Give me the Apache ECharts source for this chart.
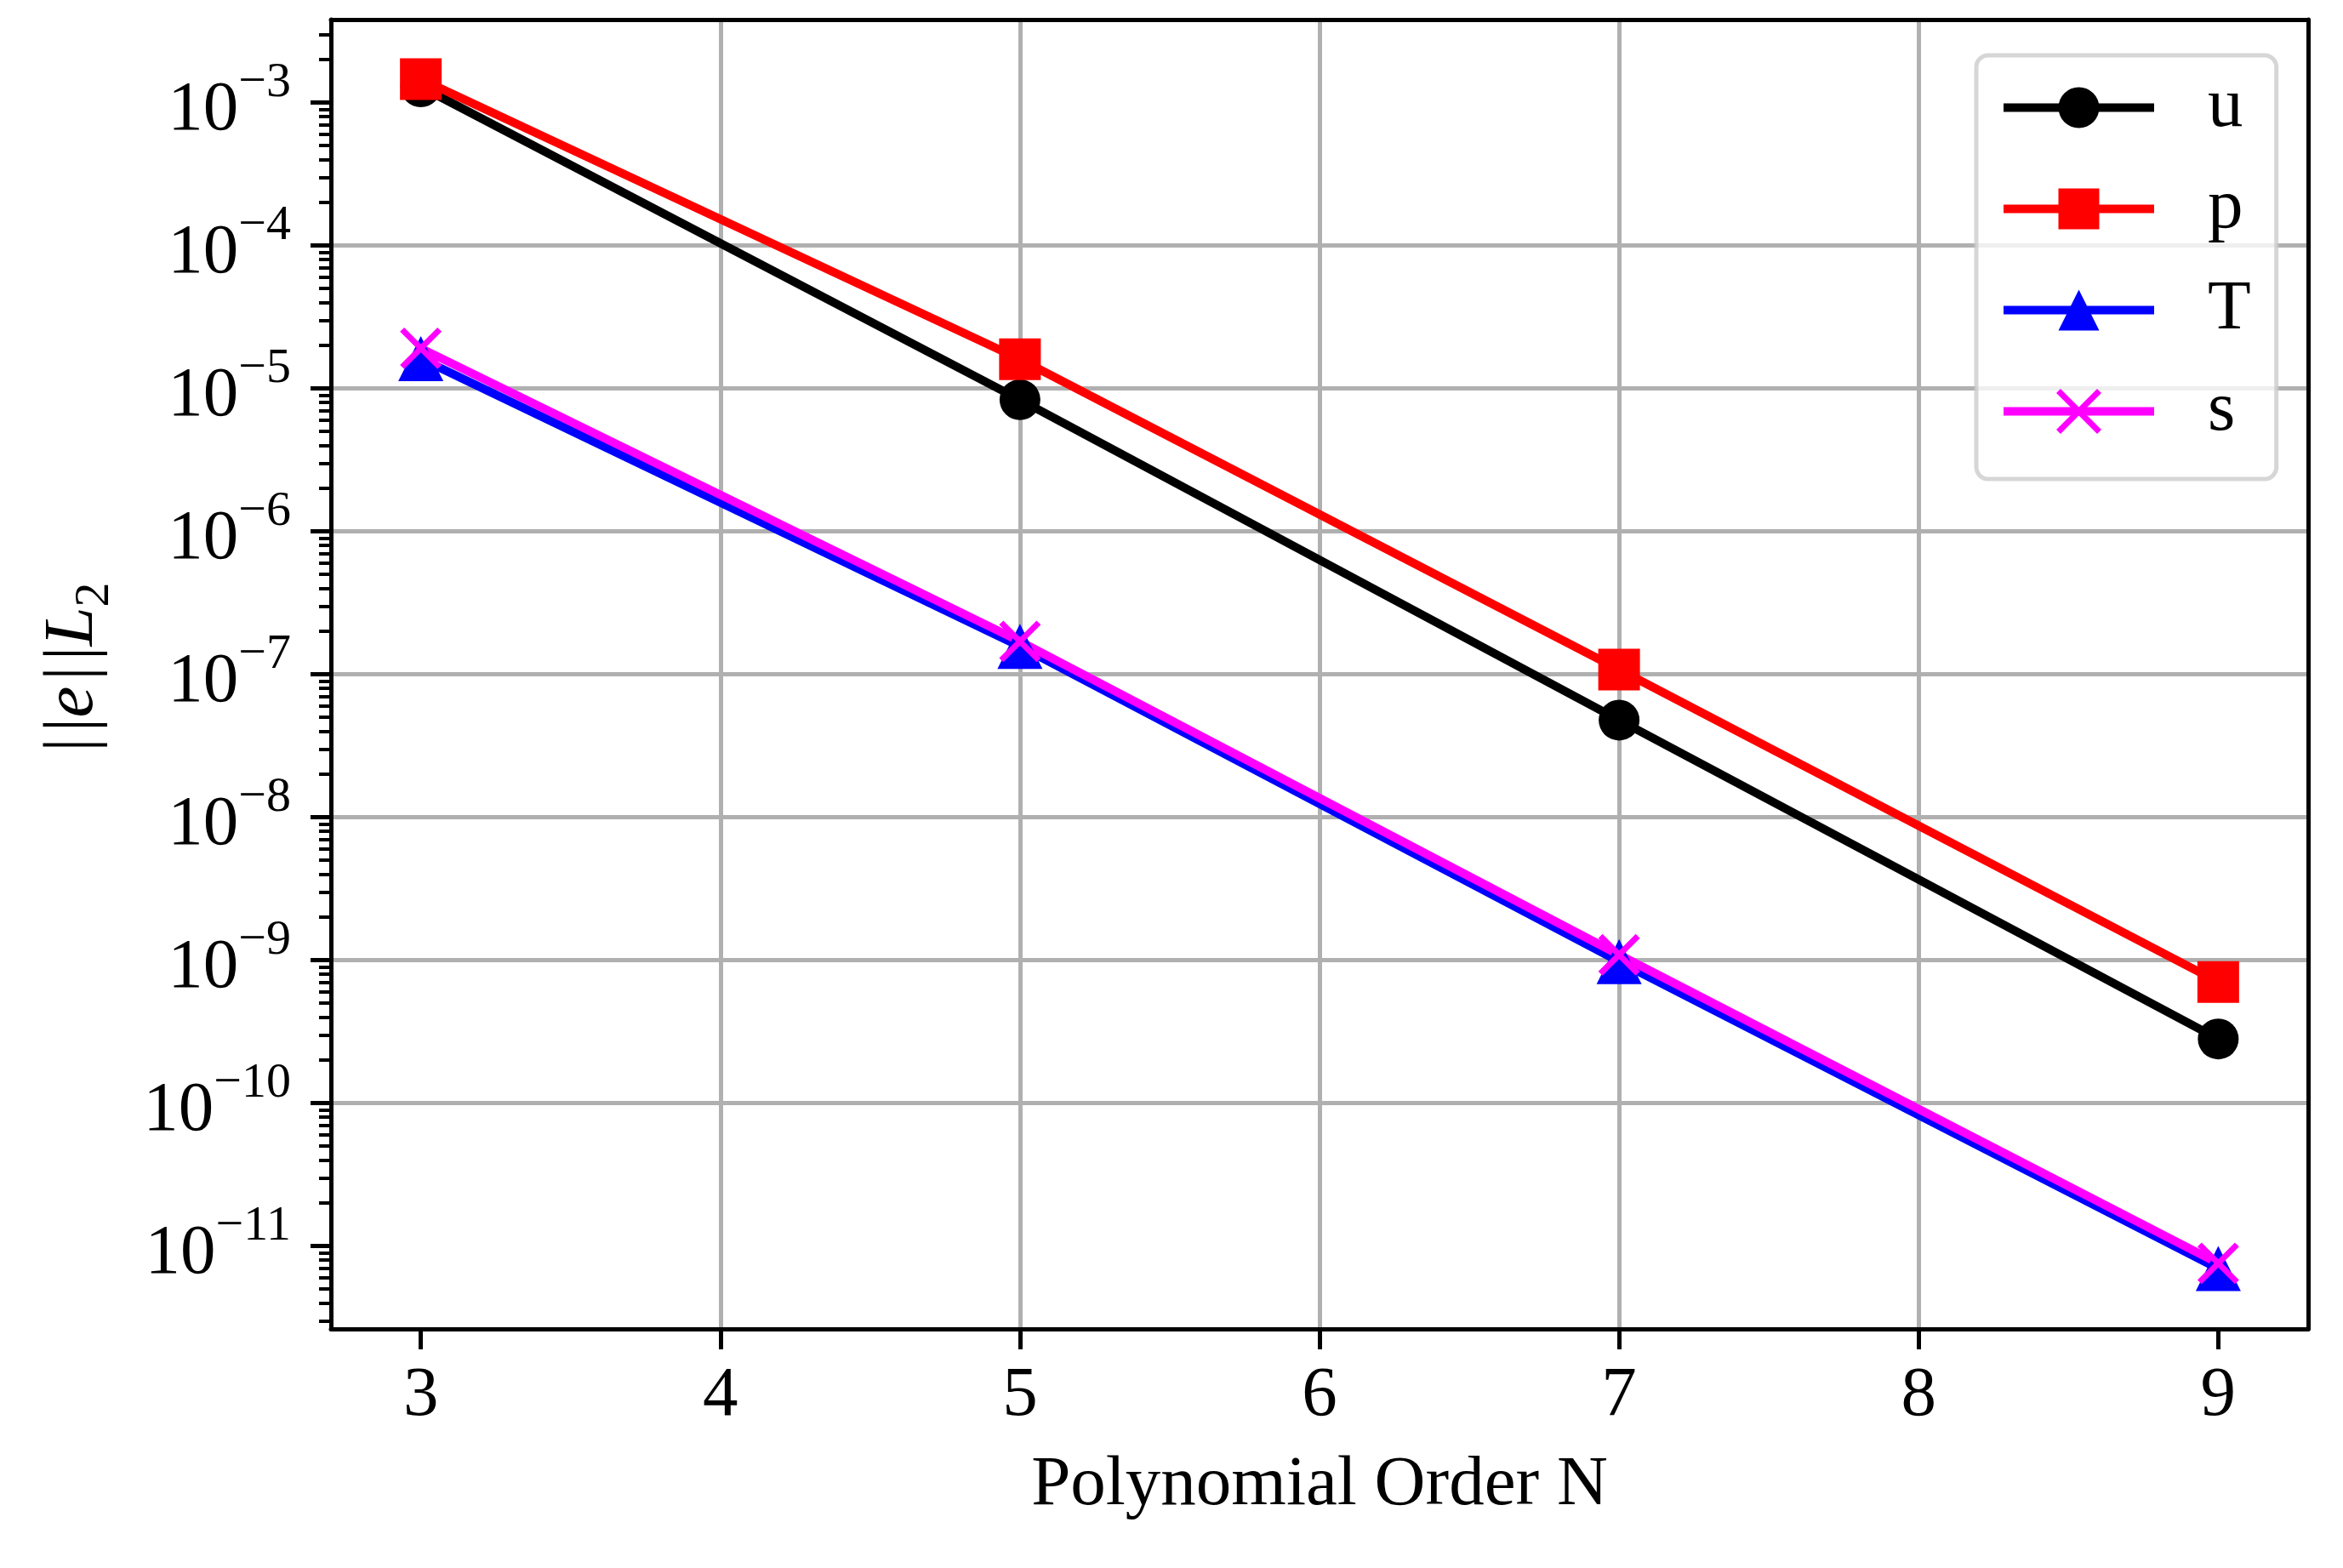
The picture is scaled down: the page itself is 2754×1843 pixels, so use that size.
<!DOCTYPE html>
<html>
<head>
<meta charset="utf-8">
<script src="https://cdn.jsdelivr.net/npm/echarts@6/dist/echarts.min.js"></script>
<style>
html,body{margin:0;padding:0;background:#ffffff;}
#chart{width:2754px;height:1843px;}
</style>
</head>
<body>
<div id="chart"></div>
<script>
// ---- data ----
const orders = [3, 5, 7, 9];
const uErr = [1.29e-3, 8.34e-6, 4.78e-8, 2.81e-10];
const pErr = [1.46e-3, 1.60e-5, 1.08e-7, 7.04e-10];
const TErr = [1.62e-5, 1.57e-7, 9.78e-10, 6.95e-12];
const sErr = [1.91e-5, 1.70e-7, 1.09e-9, 7.57e-12];
const seriesNames = ['u', 'p', 'T', 's'];
const xTicks = [3, 4, 5, 6, 7, 8, 9];
const yTicks = [1e-11, 1e-10, 1e-9, 1e-8, 1e-7, 1e-6, 1e-5, 1e-4, 1e-3];
const xRange = [2.7, 9.3];
const yExpRange = [-11.58, -2.419];

const FONT = '"Liberation Serif", "Times New Roman", serif';
const chart = echarts.init(document.getElementById('chart'), null, {renderer: 'canvas'});

function pts(vals) { return orders.map((x, i) => [x, vals[i]]); }

function yLabel(v) {
  const e = Math.round(Math.log10(v));
  if (Math.abs(Math.log10(v) - e) > 1e-6) return '';
  return '{z| }{b|10}{s|' + (e < 0 ? '\u2212' + (-e) : e) + '}';
}

const yMin = Math.pow(10, yExpRange[0]);
const yMax = Math.pow(10, yExpRange[1]);

const option = {
  animation: false,
  backgroundColor: '#ffffff',
  grid: {left: 389, right: 41, top: 23, bottom: 281, containLabel: false},
  legend: {
    orient: 'vertical',
    left: 2323, top: 65,
    padding: [20, 30, 38, 27],
    itemWidth: 177, itemHeight: 60, itemGap: 36,
    backgroundColor: 'rgba(255,255,255,0.8)',
    borderColor: 'rgba(204,204,204,0.8)',
    borderWidth: 5, borderRadius: 14,
    lineStyle: {width: 10},
    itemStyle: {borderWidth: 0},
    textStyle: {fontFamily: FONT, fontSize: 83, color: '#000', padding: [0, 0, 0, 58]},
    data: [
      {name: seriesNames[0]}, {name: seriesNames[1]}, {name: seriesNames[2]},
      {name: seriesNames[3], itemStyle: {borderWidth: 7, borderColor: '#ff00ff'}}
    ]
  },
  xAxis: [{
    type: 'value', min: xRange[0], max: xRange[1],
    axisLine: {show: true, lineStyle: {color: '#000', width: 5}},
    axisTick: {show: true, inside: false, length: 24, lineStyle: {color: '#000', width: 5}, customValues: xTicks},
    axisLabel: {customValues: xTicks, margin: 38, fontFamily: FONT, fontSize: 83, lineHeight: 83, color: '#000'},
    splitLine: {show: true, lineStyle: {color: '#b0b0b0', width: 5}, showMinLine: false, showMaxLine: false},
    name: 'Polynomial Order N', nameLocation: 'middle', nameGap: 143,
    nameTextStyle: {fontFamily: FONT, fontSize: 83, lineHeight: 83, color: '#000'}
  }, {
    type: 'value', position: 'top', min: xRange[0], max: xRange[1],
    axisLine: {show: true, onZero: false, lineStyle: {color: '#000', width: 5}},
    axisTick: {show: false}, axisLabel: {show: false}, splitLine: {show: false}
  }],
  yAxis: [{
    type: 'log', logBase: 10, min: yMin, max: yMax,
    axisLine: {show: true, lineStyle: {color: '#000', width: 5}},
    axisTick: {show: true, inside: false, length: 24, lineStyle: {color: '#000', width: 5}, customValues: yTicks},
    minorTick: {show: true, splitNumber: 9, length: 14, lineStyle: {color: '#000', width: 4}},
    axisLabel: {
      customValues: yTicks, margin: 47, formatter: yLabel, color: '#000',
      rich: {
        z: {fontFamily: FONT, fontSize: 1, lineHeight: 103, verticalAlign: 'middle', color: '#000'},
        b: {fontFamily: FONT, fontSize: 83, lineHeight: 83, verticalAlign: 'bottom', color: '#000'},
        s: {fontFamily: FONT, fontSize: 58, lineHeight: 40, verticalAlign: 'top', color: '#000'}
      }
    },
    splitLine: {show: true, lineStyle: {color: '#b0b0b0', width: 5}, showMinLine: false, showMaxLine: false},
    minorSplitLine: {show: false},
    name: '{z| }{t|\u2009|\u200a|}{i|e}{t|\u200a|\u200a|}{i|L}{s|2}',
    nameLocation: 'middle', nameRotate: 90, nameGap: 248,
    nameTextStyle: {
      color: '#000',
      rich: {
        z: {fontFamily: FONT, fontSize: 1, lineHeight: 96, verticalAlign: 'middle', color: '#000'},
        t: {fontFamily: FONT, fontSize: 83, lineHeight: 83, verticalAlign: 'top', color: '#000'},
        i: {fontFamily: FONT, fontStyle: 'italic', fontSize: 83, lineHeight: 83, verticalAlign: 'top', color: '#000'},
        s: {fontFamily: FONT, fontSize: 58, lineHeight: 58, verticalAlign: 'bottom', color: '#000'}
      }
    }
  }, {
    type: 'log', logBase: 10, min: yMin, max: yMax, position: 'right',
    axisLine: {show: true, onZero: false, lineStyle: {color: '#000', width: 5}},
    axisTick: {show: false}, minorTick: {show: false}, axisLabel: {show: false}, splitLine: {show: false}
  }],
  series: [
    {name: seriesNames[0], type: 'line', data: pts(uErr), symbol: 'circle', symbolSize: 48, showAllSymbol: true,
     lineStyle: {color: '#000000', width: 10}, itemStyle: {color: '#000000', borderWidth: 0}},
    {name: seriesNames[1], type: 'line', data: pts(pErr), symbol: 'rect', symbolSize: 49, showAllSymbol: true,
     lineStyle: {color: '#ff0000', width: 10}, itemStyle: {color: '#ff0000', borderWidth: 0}},
    {name: seriesNames[2], type: 'line', data: pts(TErr), symbol: 'triangle', symbolSize: 53, showAllSymbol: true,
     lineStyle: {color: '#0000ff', width: 10}, itemStyle: {color: '#0000ff', borderWidth: 0}},
    {name: seriesNames[3], type: 'line', data: pts(sErr), symbol: 'path://M0,0L10,10M10,0L0,10', symbolSize: 44, showAllSymbol: true,
     lineStyle: {color: '#ff00ff', width: 10}, itemStyle: {color: '#ff00ff', borderColor: '#ff00ff', borderWidth: 7}}
  ]
};
chart.setOption(option);
</script>
</body>
</html>
